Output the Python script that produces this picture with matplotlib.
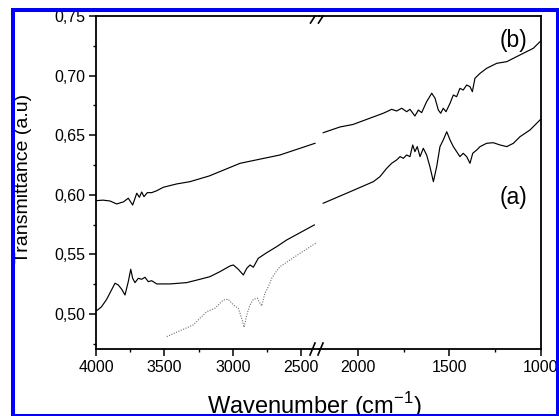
import matplotlib
matplotlib.use("Agg")
import matplotlib.pyplot as plt
from matplotlib.patches import Rectangle
from matplotlib.ticker import FixedLocator, FuncFormatter

plt.rcParams['font.family'] = ['Liberation Sans', 'DejaVu Sans']

# ---- data ----
b_left_w = [3995, 3950, 3898, 3849, 3800, 3764, 3732, 3702, 3683, 3666, 3649, 3625,
            3593, 3556, 3508, 3410, 3313, 3172, 2947, 2655, 2399]
b_left_v = [0.5951, 0.5955, 0.5948, 0.5923, 0.5940, 0.5971, 0.5914, 0.6013, 0.5979,
            0.6023, 0.5984, 0.6018, 0.6018, 0.6034, 0.6063, 0.6091, 0.6110, 0.6158,
            0.6264, 0.6334, 0.6432]

b_right_w = [2190, 2098, 2027, 1862, 1843, 1816, 1789, 1761, 1734, 1716, 1689, 1670,
             1652, 1625, 1597, 1579, 1561, 1548, 1534, 1519, 1497, 1479, 1461, 1443,
             1425, 1406, 1388, 1375, 1361, 1333, 1297, 1242, 1187, 1115, 1042, 1000]
b_right_v = [0.6521, 0.6569, 0.6590, 0.6684, 0.6697, 0.6717, 0.6703, 0.6726, 0.6697,
             0.6717, 0.6661, 0.6711, 0.6689, 0.6781, 0.6852, 0.6810, 0.6711, 0.6684,
             0.6726, 0.6697, 0.6768, 0.6837, 0.6823, 0.6893, 0.6879, 0.6921, 0.6907,
             0.6865, 0.6977, 0.7019, 0.7061, 0.7103, 0.7117, 0.7173, 0.7229, 0.7293]

a_left_w = [3998, 3960, 3922, 3861, 3837, 3812, 3788, 3764, 3746, 3732, 3715, 3691,
            3666, 3642, 3618, 3593, 3556, 3459, 3337, 3240, 3167, 3094, 3020, 2996,
            2960, 2923, 2898, 2874, 2850, 2814, 2752, 2679, 2606, 2404]
a_left_v = [0.5025, 0.5060, 0.5123, 0.5258, 0.5243, 0.5207, 0.5159, 0.5271, 0.5375,
            0.5299, 0.5263, 0.5299, 0.5291, 0.5308, 0.5271, 0.5279, 0.5252, 0.5252,
            0.5263, 0.5291, 0.5313, 0.5355, 0.5403, 0.5411, 0.5375, 0.5327, 0.5383,
            0.5411, 0.5392, 0.5467, 0.5514, 0.5565, 0.5621, 0.5747]

a_right_w = [2190, 2062, 1916, 1880, 1843, 1816, 1789, 1770, 1752, 1734, 1716, 1701,
             1689, 1676, 1661, 1643, 1625, 1607, 1588, 1570, 1552, 1534, 1515, 1497,
             1479, 1461, 1443, 1425, 1406, 1388, 1373, 1351, 1333, 1297, 1261, 1224,
             1187, 1151, 1115, 1060, 1000]
a_right_v = [0.5929, 0.6013, 0.6110, 0.6152, 0.6222, 0.6264, 0.6292, 0.6320, 0.6306,
             0.6334, 0.6320, 0.6418, 0.6362, 0.6404, 0.6320, 0.6390, 0.6334, 0.6236,
             0.6110, 0.6236, 0.6404, 0.6460, 0.6529, 0.6460, 0.6404, 0.6362, 0.6320,
             0.6348, 0.6320, 0.6264, 0.6348, 0.6376, 0.6404, 0.6432, 0.6437, 0.6418,
             0.6404, 0.6432, 0.6487, 0.6544, 0.6636]

ref_w = [3483, 3289, 3240, 3191, 3130, 3069, 3033, 2996, 2960, 2935, 2918, 2898,
         2874, 2850, 2821, 2801, 2789, 2765, 2740, 2716, 2692, 2655, 2582, 2509, 2387]
ref_v = [0.4810, 0.4908, 0.4964, 0.5019, 0.5048, 0.5117, 0.5123, 0.5076, 0.5048,
         0.4964, 0.4888, 0.4992, 0.5076, 0.5123, 0.5132, 0.5090, 0.5067, 0.5174,
         0.5229, 0.5299, 0.5341, 0.5397, 0.5453, 0.5509, 0.5598]

left_xticks = [4000, 3500, 3000, 2500]
right_xticks = [2000, 1500, 1000]
left_minor = [3750, 3250, 2750]
right_minor = [1750, 1250]
yticks = [0.50, 0.55, 0.60, 0.65, 0.70, 0.75]
yminor = [0.475, 0.525, 0.575, 0.625, 0.675, 0.725]

# ---- figure ----
W, H = 559, 416
fig = plt.figure(figsize=(W / 100, H / 100), dpi=100)
fig.patch.set_facecolor('white')

def fx(px):
    return px / W

def fy(py):
    return 1 - py / H

ax_l, ax_r, ax_b, ax_t = 96, 541, 349, 16
brk = 319
ax1 = fig.add_axes([fx(ax_l), fy(ax_b), fx(brk - ax_l), (ax_b - ax_t) / H])
ax2 = fig.add_axes([fx(brk), fy(ax_b), fx(ax_r - brk), (ax_b - ax_t) / H])

ylo, yhi = 0.4706, 0.75
ax1.set_xlim(4000, 2370)
ax2.set_xlim(2213, 1000)
for ax in (ax1, ax2):
    ax.set_ylim(ylo, yhi)
    ax.set_facecolor('none')
    for s in ax.spines.values():
        s.set_linewidth(1.3)
ax1.spines['right'].set_visible(False)
ax2.spines['left'].set_visible(False)

lw = 0.85
ax1.plot(b_left_w, b_left_v, color='black', lw=lw)
ax2.plot(b_right_w, b_right_v, color='black', lw=lw)
ax1.plot(a_left_w, a_left_v, color='black', lw=lw)
ax2.plot(a_right_w, a_right_v, color='black', lw=lw)
ax1.plot(ref_w, ref_v, color='#707070', lw=0.8, linestyle=(0, (1, 1.3)))

fmt = FuncFormatter(lambda v, p: f"{v:.2f}".replace('.', ','))
ax1.yaxis.set_major_locator(FixedLocator(yticks))
ax1.yaxis.set_minor_locator(FixedLocator(yminor))
ax1.yaxis.set_major_formatter(fmt)
ax1.xaxis.set_major_locator(FixedLocator(left_xticks))
ax1.xaxis.set_minor_locator(FixedLocator(left_minor))
ax2.xaxis.set_major_locator(FixedLocator(right_xticks))
ax2.xaxis.set_minor_locator(FixedLocator(right_minor))
ax2.yaxis.set_major_locator(FixedLocator([]))
ax2.yaxis.set_minor_locator(FixedLocator([]))

for ax in (ax1, ax2):
    ax.tick_params(which='major', direction='out', length=5, width=1.1,
                   labelsize=11.5, pad=3, top=False, right=False)
    ax.tick_params(which='minor', direction='out', length=2.5, width=1.0,
                   top=False, right=False)
ax2.tick_params(axis='y', which='both', left=False, labelleft=False)

# axis break marks
def brk_mark(x0, y0, x1, y1):
    fig.add_artist(plt.Line2D([fx(x0), fx(x1)], [fy(y0), fy(y1)], color='black',
                              lw=1.2, transform=fig.transFigure))

for off in (0, 8):
    brk_mark(310 + off, 355, 315 + off, 343)
    brk_mark(310.5 + off, 23, 315 + off, 16)

ax2.text(0.94, 0.96, '(b)', transform=ax2.transAxes, ha='right', va='top', fontsize=16.5)
ax2.text(0.94, 0.455, '(a)', transform=ax2.transAxes, ha='right', va='center', fontsize=16.5)

fig.text(fx(314), fy(414), 'Wavenumber (cm$^{\\mathregular{-1}}$)', ha='center',
         va='baseline', fontsize=17)
fig.text(fx(24), fy(178), 'Transmittance (a.u)', rotation=90, ha='center',
         va='center', fontsize=14)

# blue frame
blue = '#0000ff'
for (x0, y0, x1, y1) in [(11, 8, 15, 416), (11, 8, 559, 12), (556, 8, 559, 416),
                         (11, 414, 559, 416)]:
    fig.add_artist(Rectangle((fx(x0), fy(y1)), fx(x1 - x0), (y1 - y0) / H,
                             transform=fig.transFigure, facecolor=blue,
                             edgecolor='none', zorder=10))

fig.savefig('out.png', dpi=100)
